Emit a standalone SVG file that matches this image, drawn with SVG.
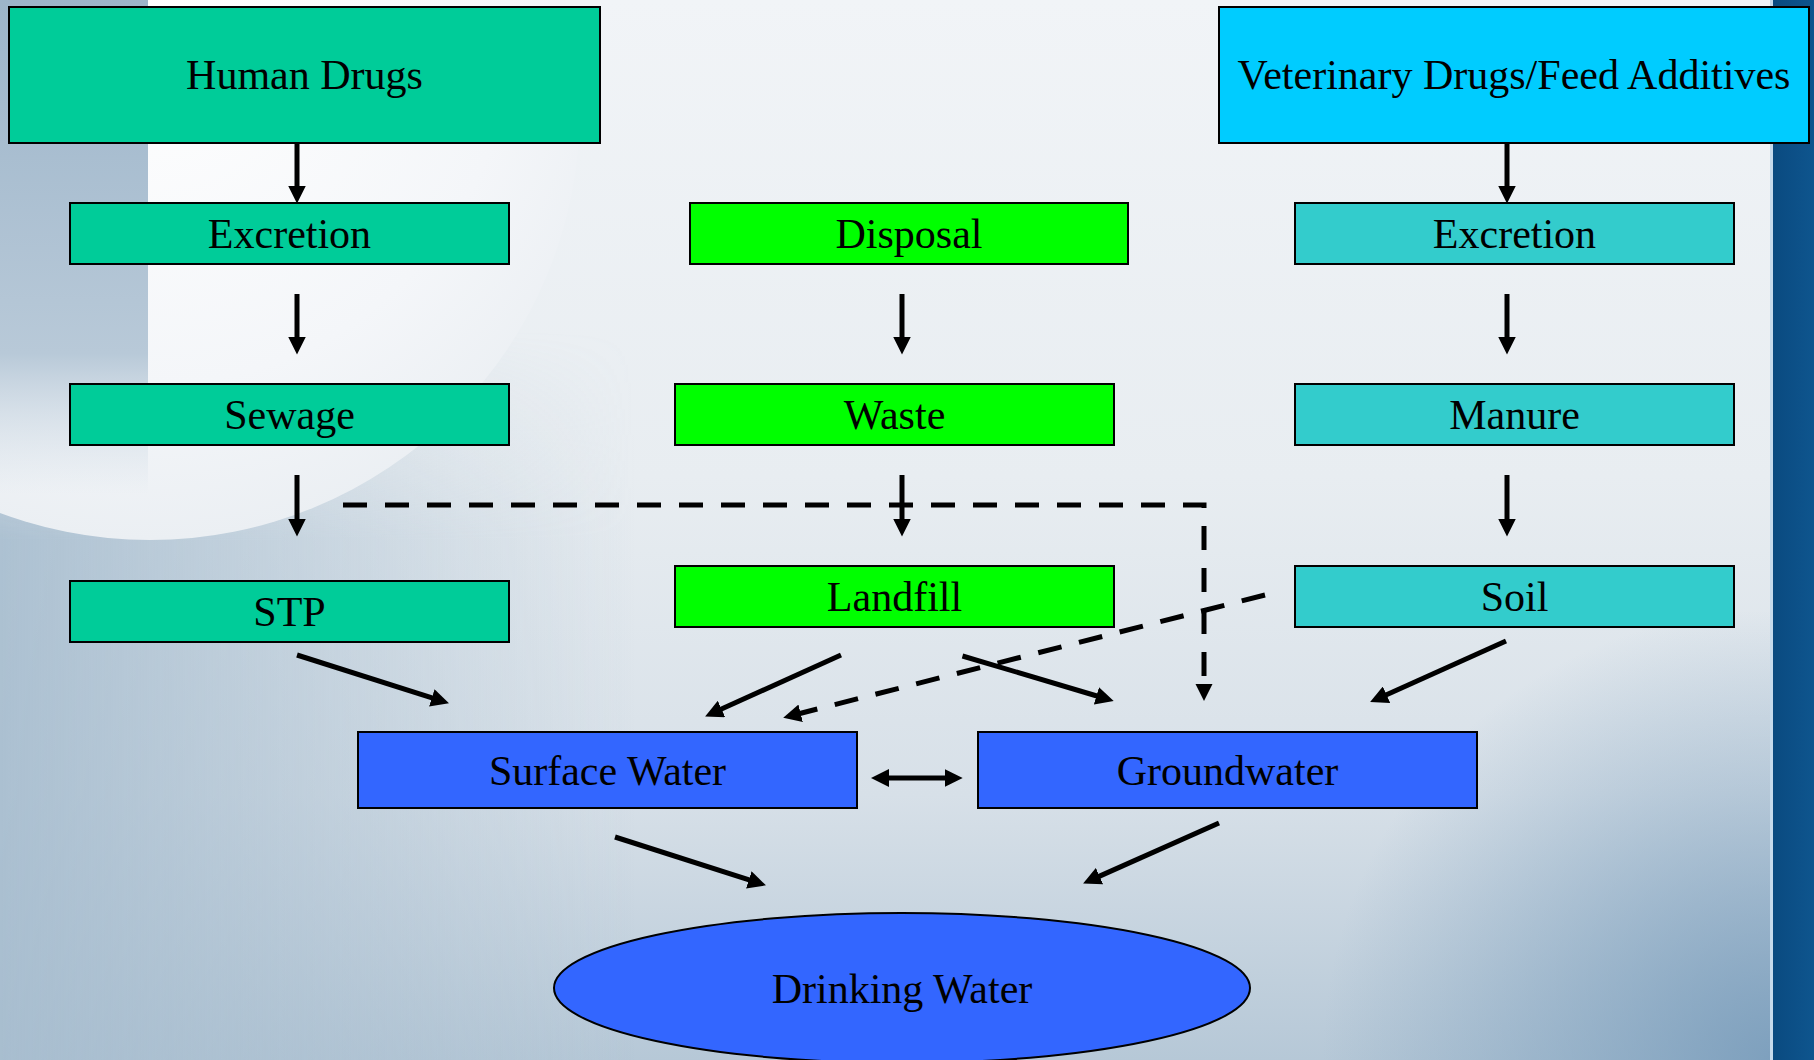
<svg xmlns="http://www.w3.org/2000/svg" width="1814" height="1060" viewBox="0 0 1814 1060">
<style>
  .box { stroke: #000; stroke-width: 2; }
  .hum { fill: #00cc99; }
  .vet { fill: #00ccff; }
  .anim { fill: #33cccc; }
  .disp { fill: #00ff00; }
  .water { fill: #3366ff; }
  .lbl { font-family: "Liberation Serif", "Times New Roman", serif; font-size: 42px; fill: #000; text-anchor: middle; }
  .arr { stroke: #000; stroke-width: 5; fill: none; marker-end: url(#head); }
  .dash { stroke: #000; stroke-width: 5; fill: none; stroke-dasharray: 24 18; }
</style>
<defs>
  <marker id="head" markerUnits="userSpaceOnUse" markerWidth="18" markerHeight="18" refX="11" refY="9" orient="auto">
    <path d="M0,0 L18,9 L0,18 z" fill="#000"/>
  </marker>
  <marker id="headStart" markerUnits="userSpaceOnUse" markerWidth="18" markerHeight="18" refX="11" refY="9" orient="auto-start-reverse">
    <path d="M0,0 L18,9 L0,18 z" fill="#000"/>
  </marker>
  <linearGradient id="bg" x1="0" y1="0" x2="0" y2="1">
    <stop offset="0" stop-color="#f1f4f7"/>
    <stop offset="0.45" stop-color="#e8edf1"/>
    <stop offset="0.75" stop-color="#d7e0e8"/>
    <stop offset="1" stop-color="#b6c8d7"/>
  </linearGradient>
  <linearGradient id="leftShade" x1="0" y1="0" x2="1" y2="0">
    <stop offset="0" stop-color="#a6bcce" stop-opacity="0.9"/>
    <stop offset="0.35" stop-color="#a6bcce" stop-opacity="0"/>
  </linearGradient>
  <linearGradient id="vfade" gradientUnits="userSpaceOnUse" x1="0" y1="330" x2="0" y2="540">
    <stop offset="0" stop-color="#fff" stop-opacity="0"/>
    <stop offset="1" stop-color="#fff" stop-opacity="1"/>
  </linearGradient>
  <mask id="lowerMask" maskUnits="userSpaceOnUse" x="0" y="0" width="1814" height="1060">
    <rect x="0" y="0" width="1814" height="1060" fill="url(#vfade)"/>
  </mask>
  <radialGradient id="disk" cx="0.5" cy="0.4" r="0.6">
    <stop offset="0" stop-color="#ffffff"/>
    <stop offset="0.7" stop-color="#f4f6f9"/>
    <stop offset="1" stop-color="#ebeff3"/>
  </radialGradient>
  <linearGradient id="strip" x1="0" y1="0" x2="0" y2="1">
    <stop offset="0" stop-color="#9db5ca" stop-opacity="1"/>
    <stop offset="0.68" stop-color="#b8c9d8" stop-opacity="1"/>
    <stop offset="0.86" stop-color="#cad7e2" stop-opacity="0.35"/>
    <stop offset="0.95" stop-color="#d0dce6" stop-opacity="0"/>
  </linearGradient>
  <radialGradient id="br" cx="1772" cy="1060" r="450" gradientUnits="userSpaceOnUse">
    <stop offset="0" stop-color="#7499b9" stop-opacity="0.85"/>
    <stop offset="1" stop-color="#7499b9" stop-opacity="0"/>
  </radialGradient>
  <linearGradient id="band" x1="0" y1="0" x2="1" y2="0">
    <stop offset="0" stop-color="#0a4a80"/>
    <stop offset="1" stop-color="#0e558e"/>
  </linearGradient>
</defs>

<g id="background">
  <rect x="0" y="0" width="1814" height="1060" fill="url(#bg)"/>
  <rect x="0" y="0" width="1814" height="1060" fill="url(#leftShade)" mask="url(#lowerMask)"/>
  <circle cx="150" cy="110" r="430" fill="url(#disk)"/>
  <rect x="0" y="0" width="148" height="520" fill="url(#strip)"/>
  <rect x="0" y="0" width="1814" height="1060" fill="url(#br)"/>
  <rect x="1770" y="0" width="3" height="1060" fill="#c6daec"/>
  <rect x="1773" y="0" width="41" height="1060" fill="url(#band)"/>
</g>

<g id="connectors">
  <line class="arr" x1="297" y1="143" x2="297" y2="196.5"/>
  <line class="arr" x1="297" y1="294" x2="297" y2="347.5"/>
  <line class="arr" x1="297" y1="475" x2="297" y2="529.5"/>
  <line class="arr" x1="902" y1="294" x2="902" y2="347.5"/>
  <line class="arr" x1="902" y1="475" x2="902" y2="529.5"/>
  <line class="arr" x1="1507" y1="143" x2="1507" y2="196.5"/>
  <line class="arr" x1="1507" y1="294" x2="1507" y2="347.5"/>
  <line class="arr" x1="1507" y1="475" x2="1507" y2="529.5"/>
  <path class="dash" d="M343,505 H1204 V680"/>
  <path d="M1195.5,684 L1212.5,684 L1204,701 z" fill="#000"/>
  <line class="dash" x1="1265" y1="595" x2="790" y2="716" style="marker-end:url(#head)"/>
  <line class="arr" x1="297" y1="655" x2="442.3" y2="701.2"/>
  <line class="arr" x1="841" y1="655" x2="711.5" y2="713.5"/>
  <line class="arr" x1="962.5" y1="656" x2="1107" y2="699"/>
  <line class="arr" x1="1506" y1="641" x2="1376.5" y2="699.2"/>
  <line class="arr" x1="615" y1="837" x2="759.3" y2="883.2"/>
  <line class="arr" x1="1219" y1="823" x2="1089.5" y2="880.6"/>
  <line class="arr" x1="878" y1="778" x2="955.7" y2="778" style="marker-start:url(#headStart)"/>
</g>

<g id="node-human-drugs">
  <rect class="box hum" x="9" y="7" width="591" height="136"/>
  <text class="lbl" x="304.5" y="89">Human Drugs</text>
</g>
<g id="node-vet-drugs">
  <rect class="box vet" x="1219" y="7" width="590" height="136"/>
  <text class="lbl" x="1514" y="89">Veterinary Drugs/Feed Additives</text>
</g>
<g id="node-excretion-human">
  <rect class="box hum" x="70" y="203" width="439" height="61"/>
  <text class="lbl" x="289.5" y="248">Excretion</text>
</g>
<g id="node-sewage">
  <rect class="box hum" x="70" y="384" width="439" height="61"/>
  <text class="lbl" x="289.5" y="429">Sewage</text>
</g>
<g id="node-stp">
  <rect class="box hum" x="70" y="581" width="439" height="61"/>
  <text class="lbl" x="289.5" y="626">STP</text>
</g>
<g id="node-disposal">
  <rect class="box disp" x="690" y="203" width="438" height="61"/>
  <text class="lbl" x="909" y="248">Disposal</text>
</g>
<g id="node-waste">
  <rect class="box disp" x="675" y="384" width="439" height="61"/>
  <text class="lbl" x="894.5" y="429">Waste</text>
</g>
<g id="node-landfill">
  <rect class="box disp" x="675" y="566" width="439" height="61"/>
  <text class="lbl" x="894.5" y="611">Landfill</text>
</g>
<g id="node-excretion-vet">
  <rect class="box anim" x="1295" y="203" width="439" height="61"/>
  <text class="lbl" x="1514.5" y="248">Excretion</text>
</g>
<g id="node-manure">
  <rect class="box anim" x="1295" y="384" width="439" height="61"/>
  <text class="lbl" x="1514.5" y="429">Manure</text>
</g>
<g id="node-soil">
  <rect class="box anim" x="1295" y="566" width="439" height="61"/>
  <text class="lbl" x="1514.5" y="611">Soil</text>
</g>
<g id="node-surface-water">
  <rect class="box water" x="358" y="732" width="499" height="76"/>
  <text class="lbl" x="607.5" y="784.5">Surface Water</text>
</g>
<g id="node-groundwater">
  <rect class="box water" x="978" y="732" width="499" height="76"/>
  <text class="lbl" x="1227.5" y="784.5">Groundwater</text>
</g>
<g id="node-drinking-water">
  <ellipse class="box water" cx="902" cy="988" rx="348" ry="75"/>
  <text class="lbl" x="902" y="1002.5">Drinking Water</text>
</g>
</svg>
